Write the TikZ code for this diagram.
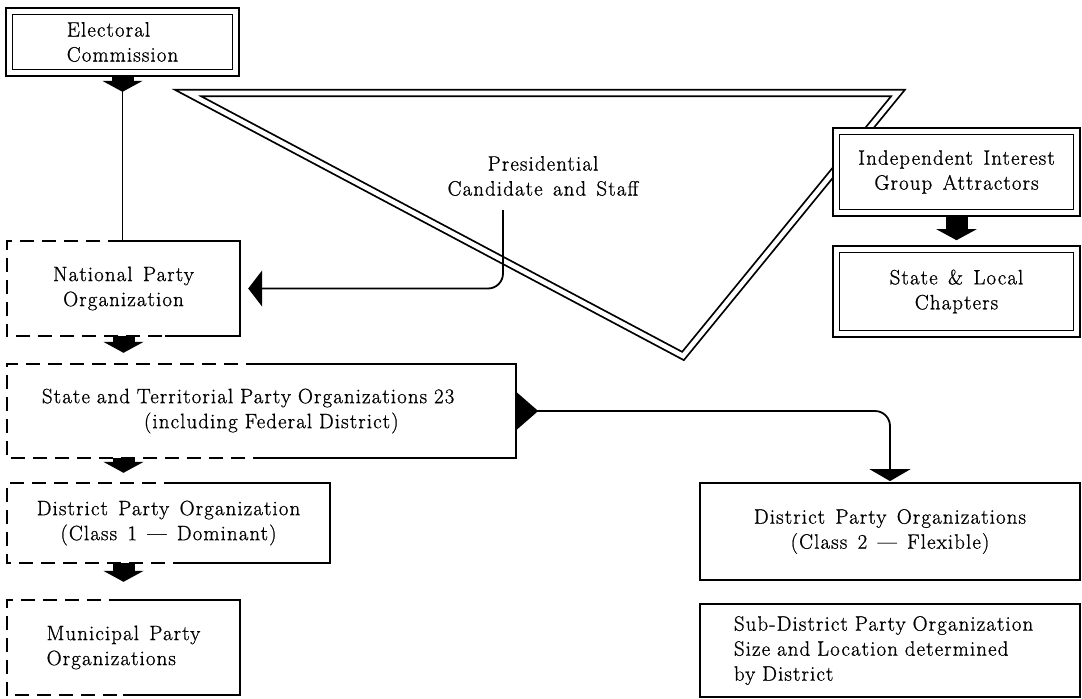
\documentclass[tikz,border=0pt]{standalone}
\usepackage{fontspec}
\setmainfont{Latin Modern Roman}[LetterSpace=5.5,WordSpace=1.4,FakeBold=0.9]
\usetikzlibrary{arrows.meta}

\begin{document}
\begin{tikzpicture}[x=1pt,y=-1pt,
  txt/.style={font=\fontsize{20.8}{25}\selectfont, inner sep=0pt},
  frame/.style={txt, draw, line width=1.8pt, double, double distance=4.6pt, fill=white, outer sep=4.1pt},
  plainbox/.style={txt, draw, line width=1.8pt, fill=white},
  openbox/.style={txt},
  edge/.style={line width=1.8pt},
  dashedge/.style={line width=1.8pt, dash pattern=on 14pt off 8pt},
  conn/.style={line width=1.8pt},
  fat/.style={line width=22pt, -{Triangle[width=40pt,length=11pt]}},
  tri/.style={line width=1.8pt, double, double distance=4.6pt, line join=miter}
]
\useasboundingbox (0,0) rectangle (1082,699);

% the campaign triangle
\coordinate (ta) at (188,93);
\coordinate (tb) at (898,93);
\coordinate (tc) at (683,356);
\draw[tri] (ta) -- (tb) -- (tc) -- cycle;

% boxes
\node[frame, minimum width=226.4pt, minimum height=61.4pt, align=left] (elec) at (122.5,42) {Electoral\\Commission};
\node[openbox, minimum width=233pt, minimum height=95pt, align=center] (nat) at (123.5,288.5) {National Party\\Organization};
\node[openbox, minimum width=509pt, minimum height=94pt, text width=439pt, inner xsep=35pt, align=left] (state) at (261.5,411)
  {State and Territorial Party Organizations 23\\\hspace*{102pt}(including Federal District)};
\node[openbox, minimum width=323pt, minimum height=80pt, align=center] (dist1) at (168.5,523) {District Party Organization\\(Class 1 — Dominant)};
\node[openbox, minimum width=233pt, minimum height=95pt, align=left] (muni) at (123.5,647.5) {Municipal Party\\Organizations};
\node[frame, minimum width=240.4pt, minimum height=81.4pt, align=center] (indep) at (956.5,172) {Independent Interest\\Group Attractors};
\node[frame, minimum width=240.4pt, minimum height=84.4pt, align=center] (chap) at (956.5,291.5) {State \& Local\\Chapters};
\node[plainbox, minimum width=380pt, minimum height=97pt, align=center] (dist2) at (890,531.5) {District Party Organizations\\(Class 2 — Flexible)};
\node[plainbox, minimum width=380pt, minimum height=93pt, text width=312pt, inner xsep=34pt, align=left] (sub) at (890,650.5)
  {Sub-District Party Organization\\Size and Location determined\\by District};
\node[txt, align=center] (pres) at (543,176) {Presidential\\Candidate and Staff};

% half-dashed borders
\draw[dashedge] ([xshift=115pt]nat.north west) -- (nat.north west) -- (nat.south west) -- ([xshift=158pt]nat.south west);
\draw[edge] ([xshift=115pt]nat.north west) -- (nat.north east) -- (nat.south east) -- ([xshift=158pt]nat.south west);
\draw[dashedge] ([xshift=253pt]state.north west) -- (state.north west) -- (state.south west) -- ([xshift=253pt]state.south west);
\draw[edge] ([xshift=253pt]state.north west) -- (state.north east) -- (state.south east) -- ([xshift=253pt]state.south west);
\draw[dashedge] ([xshift=171pt]dist1.north west) -- (dist1.north west) -- (dist1.south west) -- ([xshift=166pt]dist1.south west);
\draw[edge] ([xshift=171pt]dist1.north west) -- (dist1.north east) -- (dist1.south east) -- ([xshift=166pt]dist1.south west);
\draw[dashedge] ([xshift=116pt]muni.north west) -- (muni.north west) -- (muni.south west) -- ([xshift=116pt]muni.south west);
\draw[edge] ([xshift=116pt]muni.north west) -- (muni.north east) -- (muni.south east) -- ([xshift=116pt]muni.south west);

% connectors
\coordinate (pfoot) at (503,210);
\draw[conn, rounded corners=15pt, -{Triangle[width=36pt,length=14pt]}, shorten >=8pt] (pfoot) |- (nat.east);
\draw[conn, rounded corners=15pt, {Triangle[reversed,width=38pt,length=22pt]}-{Triangle[width=41pt,length=12pt]}, shorten >=1pt]
  (state.east) -| (dist2.north);
\draw[conn] (elec.south) -- (elec.south |- nat.north);
\draw[fat] (elec.south) -- ++(0,15);
\draw[fat, shorten >=11pt] (nat.south) -- (nat.south |- state.north);
\draw[fat, shorten >=10pt] (state.south -| nat.south) -- (nat.south |- dist1.north);
\draw[fat, shorten >=18pt] (dist1.south -| nat.south) -- (nat.south |- muni.north);
\draw[fat, shorten >=5pt] (indep.south) -- (chap.north);
\end{tikzpicture}
\end{document}
